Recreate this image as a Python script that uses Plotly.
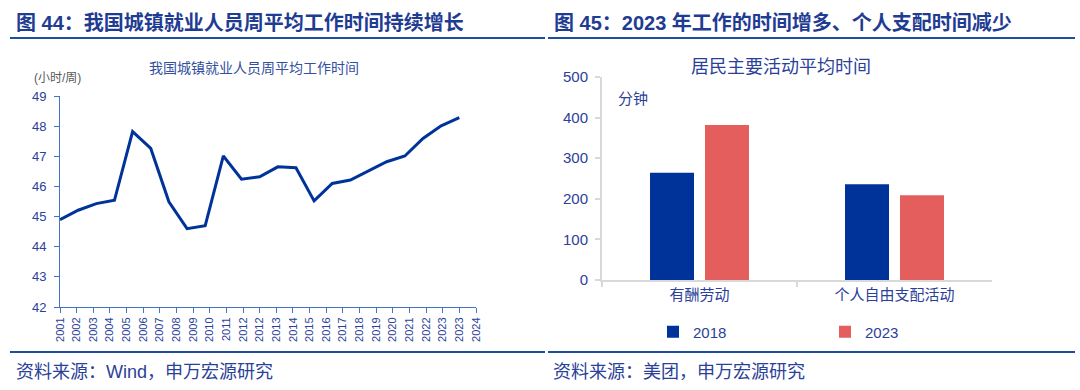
import numpy as np
import plotly.graph_objects as go

# ---------------- data ----------------
years = list(range(2001, 2024))
hours = [44.90, 45.21, 45.43, 45.54, 47.82, 47.26, 45.49, 44.60, 44.70, 47.01,
         46.24, 46.32, 46.65, 46.62, 45.52, 46.10, 46.21, 46.52, 46.82, 47.01,
         47.59, 48.01, 48.28]
xtick_labels = ["2001", "2002", "2003", "2004", "2005", "2006", "2007", "2008",
                "2009", "2010", "2011", "2012", "2012", "2013", "2014", "2015",
                "2016", "2017", "2018", "2019", "2020", "2021", "2022", "2023",
                "2023", "2024"]
x_axis_end = 2023.92

categories = ["有酬劳动", "个人自由支配活动"]
minutes_2018 = [264, 236]
minutes_2023 = [382, 209]

# ---------------- style ----------------
W, H = 1080, 390
FONT = "Liberation Sans, Noto Sans CJK SC, sans-serif"
NAVY = "#1F3C93"
TEXT = "#2B4199"
LINE_BLUE = "#003399"
RED = "#E55E5E"


def px(x):
    return x / W


def py(y):
    return 1 - y / H


fig = go.Figure()

fig.add_trace(go.Scatter(
    x=years, y=hours, mode="lines",
    line=dict(color=LINE_BLUE, width=3),
    xaxis="x", yaxis="y", showlegend=False, hoverinfo="x+y"))

fig.add_trace(go.Bar(x=categories, y=minutes_2018, name="2018",
                     marker=dict(color=LINE_BLUE, line=dict(width=0)),
                     xaxis="x2", yaxis="y2"))
fig.add_trace(go.Bar(x=categories, y=minutes_2023, name="2023",
                     marker=dict(color=RED, line=dict(width=0)),
                     xaxis="x2", yaxis="y2"))

left_axis_col = "#4472C4"
right_axis_col = "#D9D9D9"

fig.update_layout(
    width=W, height=H,
    margin=dict(l=0, r=0, t=0, b=0, pad=0, autoexpand=False),
    paper_bgcolor="white", plot_bgcolor="white",
    font=dict(family=FONT, color=TEXT),
    xaxis=dict(domain=[px(60), px(476)], range=[years[0], x_axis_end],
               tickvals=list(np.linspace(years[0], x_axis_end, len(xtick_labels))),
               ticktext=xtick_labels, tickangle=-90,
               ticks="outside", ticklen=5, tickcolor=left_axis_col,
               showline=True, linecolor=left_axis_col, linewidth=1,
               showgrid=False, zeroline=False, automargin=False,
               tickfont=dict(size=11, color=TEXT)),
    yaxis=dict(domain=[py(307), py(96)], range=[42, 49], dtick=1,
               ticks="outside", ticklen=5, tickcolor=left_axis_col,
               showline=True, linecolor=left_axis_col, linewidth=1,
               showgrid=False, zeroline=False, automargin=False,
               ticklabelstandoff=5,
               tickfont=dict(size=13, color=TEXT)),
    xaxis2=dict(domain=[px(602), px(992)], range=[-0.5, 1.5], type="category",
                anchor="y2", showline=True, linecolor=right_axis_col, linewidth=2,
                ticks="outside", tickson="boundaries", ticklen=5,
                tickcolor=right_axis_col, tickwidth=2,
                showgrid=False, zeroline=False, automargin=False,
                tickfont=dict(size=15, color=TEXT)),
    yaxis2=dict(domain=[py(280), py(77)], range=[0, 500], dtick=100,
                anchor="x2", showline=True, linecolor=right_axis_col, linewidth=2,
                ticks="outside", ticklen=5, tickcolor=right_axis_col, tickwidth=2,
                showgrid=False, zeroline=False, automargin=False,
                ticklabelstandoff=4,
                tickfont=dict(size=15, color=TEXT)),
    barmode="group", bargap=0.436, bargroupgap=0.2,
    legend=dict(orientation="h", x=px(653), y=py(332), xanchor="left",
                yanchor="middle", font=dict(size=15, color=TEXT),
                entrywidth=127, bgcolor="rgba(0,0,0,0)"),
)

annotations = [
    dict(text="<b>图 44：我国城镇就业人员周平均工作时间持续增长</b>", x=px(14), y=py(23),
         xanchor="left", font=dict(size=20, color=NAVY)),
    dict(text="<b>图 45：2023 年工作的时间增多、个人支配时间减少</b>", x=px(552), y=py(23),
         xanchor="left", font=dict(size=20, color=NAVY)),
    dict(text="我国城镇就业人员周平均工作时间", x=px(254), y=py(68),
         xanchor="center", font=dict(size=14, color="#3350A0")),
    dict(text="(小时/周)", x=px(32), y=py(78), xanchor="left",
         font=dict(size=12, color="#595959")),
    dict(text="居民主要活动平均时间", x=px(781), y=py(67), xanchor="center",
         font=dict(size=18, color=TEXT)),
    dict(text="分钟", x=px(616), y=py(98), xanchor="left",
         font=dict(size=15, color=TEXT)),
    dict(text="资料来源：Wind，申万宏源研究", x=px(14), y=py(372), xanchor="left",
         font=dict(size=18, color=TEXT)),
    dict(text="资料来源：美团，申万宏源研究", x=px(551), y=py(372), xanchor="left",
         font=dict(size=18, color=TEXT)),
]
for a in annotations:
    a.update(xref="paper", yref="paper", yanchor="middle", showarrow=False)
fig.update_layout(annotations=annotations)

rule_col = "#1F4E9C"
shapes = []
for (x0, x1) in [(10, 545), (548, 1075)]:
    for yy in (38, 352):
        shapes.append(dict(type="line", xref="paper", yref="paper",
                           x0=px(x0), x1=px(x1), y0=py(yy), y1=py(yy),
                           line=dict(color=rule_col, width=2)))
fig.update_layout(shapes=shapes)

fig.write_html(
    "out.html",
    config={"displayModeBar": False},
    post_script="document.body.style.margin='0';document.body.style.overflow='hidden';",
)
